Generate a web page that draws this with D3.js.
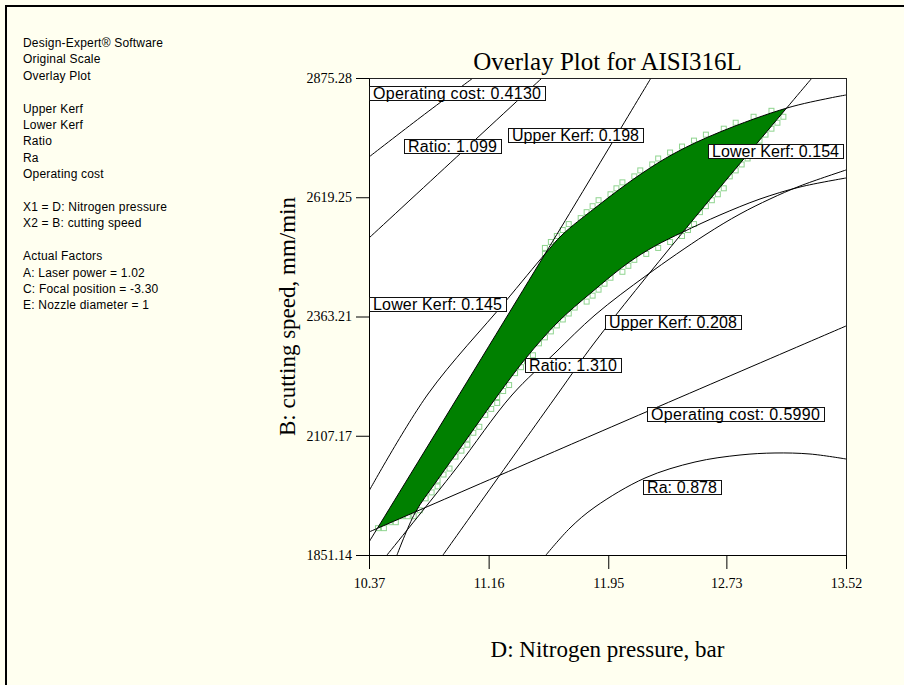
<!DOCTYPE html>
<html><head><meta charset="utf-8">
<script src="https://cdn.jsdelivr.net/npm/d3@7"></script>
<style>
html,body{margin:0;padding:0;background:#fffff0;}
svg{display:block;}
</style></head><body>
<svg id="chart" width="904" height="685"></svg>
<script>
// ---------------- data ----------------
const xTicks = [10.37, 11.16, 11.95, 12.73, 13.52];
const yTicks = [1851.14, 2107.17, 2363.21, 2619.25, 2875.28];
const xDomain = [10.37, 13.52];
const yDomain = [1851.14, 2875.28];

// contour lines: [nitrogen pressure (bar), cutting speed (mm/min)]
const opCost4130 = [[10.370,2705.66],[10.713,2791.54],[11.057,2875.28]];
const ratio1099 = [[10.370,2531.75],[10.9485,2705.66],[11.5125,2875.28]];
const upperKerf198 = [[12.2323,2875.28],[11.5323,2497.40],[10.370,1879.05]];
const lowerKerf145 = [[10.370,1988.55],[10.7596,2196.81],[11.2681,2394.34],[11.5323,2497.40],[11.6445,2538.19],[11.8625,2596.16],[12.1464,2664.87],[12.3908,2714.25],[12.6879,2759.34],[13.1304,2810.87],[13.4144,2832.34],[13.52,2838.78]];
const upperKerf208 = [[13.2955,2875.28],[12.4436,2544.63],[11.8625,2308.46],[11.6115,2194.67],[10.8587,1851.14]];
const ratio1310 = [[10.5549,1851.14],[10.6738,1941.32],[10.8125,2007.87],[11.0106,2098.05],[11.2219,2194.67],[11.4068,2274.11],[11.6181,2351.40],[11.8426,2415.81],[12.0804,2478.08],[12.2587,2514.58],[12.4436,2544.63],[12.6879,2581.14],[12.9521,2615.49],[13.2162,2641.25],[13.52,2660.57]];
const lowerKerf154 = [[10.4889,1851.14],[10.9379,2033.64],[11.3143,2194.67],[11.5983,2284.84],[11.8625,2366.43],[12.2059,2452.31],[12.5889,2538.19],[12.8200,2583.28],[13.0181,2615.49],[13.2162,2643.40],[13.52,2677.75]];
const opCost5990 = [[10.370,1900.52],[11.8625,2110.93],[13.52,2342.81]];
const ra878 = [[11.5389,1851.14],[11.6974,1909.11],[11.8625,1954.20],[12.1926,2016.46],[12.5228,2050.81],[12.8200,2065.84],[13.0511,2070.14],[13.2823,2067.99],[13.52,2057.26]];

const contourLabels = [
  {text:"Operating cost: 0.4130", x:10.370, y:2843.07},
  {text:"Ratio: 1.099", x:10.6011, y:2728.21},
  {text:"Upper Kerf: 0.198", x:11.2879, y:2752.90},
  {text:"Lower Kerf: 0.154", x:12.6087, y:2718.54},
  {text:"Lower Kerf: 0.145", x:10.370, y:2390.05},
  {text:"Ratio: 1.310", x:11.4002, y:2260.15},
  {text:"Upper Kerf: 0.208", x:11.9285, y:2350.33},
  {text:"Operating cost: 0.5990", x:12.2059, y:2153.87},
  {text:"Ra: 0.878", x:12.1794, y:1997.14}
];
const labelWidths = [176, 97, 135, 135, 137, 96, 136, 177, 78];

const infoLines = ["Design-Expert\u00AE Software","Original Scale","Overlay Plot","",
  "Upper Kerf","Lower Kerf","Ratio","Ra","Operating cost","",
  "X1 = D: Nitrogen pressure","X2 = B: cutting speed","",
  "Actual Factors","A: Laser power = 1.02","C: Focal position = -3.30","E: Nozzle diameter = 1"];

const titleText = "Overlay Plot for AISI316L";
const xTitle = "D: Nitrogen pressure, bar";
const yTitle = "B: cutting speed, mm/min";

// ---------------- layout ----------------
const W = 904, H = 685;
const PL = 369, PR = 846, PT = 78, PB = 555;
const x = d3.scaleLinear().domain(xDomain).range([PL, PR]);
const y = d3.scaleLinear().domain(yDomain).range([PB, PT]);
const serif = "'Liberation Serif','Times New Roman',Times,serif";
const sans = "'Liberation Sans',Arial,Helvetica,sans-serif";

const svg = d3.select("#chart");
svg.append("rect").attr("width", W).attr("height", H).attr("fill", "#fffff0");
svg.append("path").attr("d", `M6,${H+2}V6H${W+2}`).attr("fill", "none").attr("stroke", "#000").attr("stroke-width", 2);

// info text
svg.append("g").selectAll("text").data(infoLines).join("text")
  .attr("x", 23).attr("y", (d, i) => 47 + i * 16.4)
  .attr("font-family", sans).attr("font-size", 12).attr("letter-spacing", 0.2)
  .attr("fill", "#000").text(d => d);

// title
svg.append("text").attr("x", (PL + PR) / 2).attr("y", 70).attr("text-anchor", "middle")
  .attr("font-family", serif).attr("font-size", 25).attr("fill", "#000").text(titleText);

// plot background
svg.append("rect").attr("x", PL).attr("y", PT).attr("width", PR - PL).attr("height", PB - PT).attr("fill", "#fff");
svg.append("clipPath").attr("id", "clip").append("rect").attr("x", PL).attr("y", PT).attr("width", PR - PL).attr("height", PB - PT);

const plotG = svg.append("g").attr("clip-path", "url(#clip)");
const squaresG = plotG.append("g");
const fillG = plotG.append("g");
const linesG = plotG.append("g");

const line = d3.line().x(d => x(d[0])).y(d => y(d[1])).curve(d3.curveCatmullRom.alpha(0.5));
const allCurves = [opCost4130, ratio1099, upperKerf198, lowerKerf145, upperKerf208, ratio1310, lowerKerf154, opCost5990, ra878];
const paths = linesG.selectAll("path").data(allCurves).join("path")
  .attr("d", line).attr("fill", "none").attr("stroke", "#000").attr("stroke-width", 1);
const pathNodes = paths.nodes();

function sample(node) {
  const L = node.getTotalLength(), pts = [];
  for (let s = 0; s < L; s += 0.5) { const p = node.getPointAtLength(s); pts.push([p.x, p.y]); }
  const p = node.getPointAtLength(L); pts.push([p.x, p.y]);
  return pts;
}
function interpBy(pts, key, other) {
  const arr = pts.slice().sort((a, b) => a[key] - b[key]);
  const ks = arr.map(d => d[key]);
  const n = arr.length, span = Math.min(20, n - 1);
  return function (v) {
    let a, b;
    if (v <= ks[0]) { a = arr[0]; b = arr[span]; }
    else if (v >= ks[n - 1]) { a = arr[n - 1 - span]; b = arr[n - 1]; }
    else {
      let i = d3.bisectLeft(ks, v); if (i < 1) i = 1;
      a = arr[i - 1]; b = arr[i];
      let j = i - 1; while (b[key] - a[key] < 1e-6 && j > 0) { j--; a = arr[j]; }
    }
    const d = b[key] - a[key];
    const t = Math.abs(d) < 1e-9 ? 0 : (v - a[key]) / d;
    return a[other] + t * (b[other] - a[other]);
  };
}
const fUK = interpBy(sample(pathNodes[2]), 1, 0);
const fLK = interpBy(sample(pathNodes[3]), 1, 0);
const fL1 = interpBy(sample(pathNodes[4]), 1, 0);
const fR = interpBy(sample(pathNodes[5]), 1, 0);
const fOC = interpBy(sample(pathNodes[7]), 0, 1);
function constraints(px, py) {
  return [px - fUK(py), px - fLK(py), fL1(py) - px, fR(py) - px, fOC(px) - py];
}
function feas(px, py) { return d3.min(constraints(px, py)); }
function limiting(px, py) { const v = constraints(px, py); return d3.minIndex(v); }

// feasible region via contours
const n = PR - PL;
const vals = new Float64Array(n * n);
for (let j = 0; j < n; j++) for (let i = 0; i < n; i++) vals[j * n + i] = feas(PL + i + 0.5, PT + j + 0.5);
const cont = d3.contours().size([n, n]).thresholds([0])(vals);
fillG.attr("transform", `translate(${PL},${PT})`).append("path")
  .attr("d", d3.geoPath()(cont[0])).attr("fill", "#008000");

// grid squares on the outer edge of the feasible window
const N = 80, c = n / N;
const anyF = [];
for (let j = 0; j < N; j++) {
  anyF.push([]);
  for (let i = 0; i < N; i++) {
    const x0 = PL + i * c, y0 = PT + j * c;
    anyF[j].push([[x0, y0], [x0 + c, y0], [x0, y0 + c], [x0 + c, y0 + c]].some(p => feas(p[0], p[1]) >= 0));
  }
}
const picked = new Set();
const center = (i, j) => [PL + (i + 0.5) * c, PT + (j + 0.5) * c];
for (let j = 0; j < N; j++) {
  const idx = d3.range(N).filter(i => anyF[j][i]);
  if (!idx.length) continue;
  const iL = idx[0], iR = idx[idx.length - 1];
  const cl = center(iL, j); if (limiting(cl[0], cl[1]) === 1) picked.add(iL + "," + j);
  const cr = center(iR, j); if (feas(cr[0], cr[1]) < 0) picked.add(iR + "," + j);
}
for (let i = 0; i < N; i++) {
  const idx = d3.range(N).filter(j => anyF[j][i]);
  if (!idx.length) continue;
  const jB = idx[idx.length - 1];
  const cb = center(i, jB); if (limiting(cb[0], cb[1]) === 4) picked.add(i + "," + jB);
}
const cells = Array.from(picked).map(s => s.split(",").map(Number));
squaresG.selectAll("rect").data(cells).join("rect")
  .attr("x", d => PL + d[0] * c + 0.5).attr("y", d => PT + d[1] * c + 0.5).attr("width", c - 1).attr("height", c - 1)
  .attr("fill", "none").attr("stroke", "#8fd48f").attr("stroke-width", 1);

// plot frame
svg.append("rect").attr("x", PL + 0.5).attr("y", PT + 0.5).attr("width", PR - PL).attr("height", PB - PT)
  .attr("fill", "none").attr("stroke", "#222").attr("stroke-width", 1);

// axes
const xAxis = d3.axisBottom(x).tickValues(xTicks).tickFormat(d3.format(".2f")).tickSize(14).tickSizeOuter(0).tickPadding(9);
const gx = svg.append("g").attr("transform", `translate(0,${PB})`).call(xAxis);
const yAxis = d3.axisLeft(y).tickValues(yTicks).tickFormat(d3.format(".2f")).tickSize(13).tickSizeOuter(0).tickPadding(4);
const gy = svg.append("g").attr("transform", `translate(${PL},0)`).call(yAxis);
[gx, gy].forEach(g => {
  g.selectAll("text").attr("font-family", serif).attr("font-size", 14).attr("fill", "#000");
  g.selectAll("line,path").attr("stroke", "#000");
  g.attr("font-family", null).attr("font-size", null);
});

// axis titles
svg.append("text").attr("x", (PL + PR) / 2).attr("y", 657).attr("text-anchor", "middle")
  .attr("font-family", serif).attr("font-size", 23).attr("fill", "#000").text(xTitle);
svg.append("text").attr("transform", `translate(295,${(PT + PB) / 2}) rotate(-90)`).attr("text-anchor", "middle")
  .attr("font-family", serif).attr("font-size", 23).attr("fill", "#000").text(yTitle);

// contour labels
const lg = svg.append("g").selectAll("g").data(contourLabels).join("g")
  .attr("transform", d => `translate(${Math.round(x(d.x))},${Math.round(y(d.y))})`);
lg.append("rect").attr("x", 0.5).attr("y", -6.5).attr("width", (d, i) => labelWidths[i]).attr("height", 14)
  .attr("fill", "#fff").attr("stroke", "#111").attr("stroke-width", 1);
lg.append("text").attr("x", 4).attr("y", 5.5)
  .attr("font-family", sans).attr("font-size", 16).attr("fill", "#000")
  .attr("textLength", (d, i) => labelWidths[i] - 8).attr("lengthAdjust", "spacing")
  .text(d => d.text);
</script>
</body></html>
